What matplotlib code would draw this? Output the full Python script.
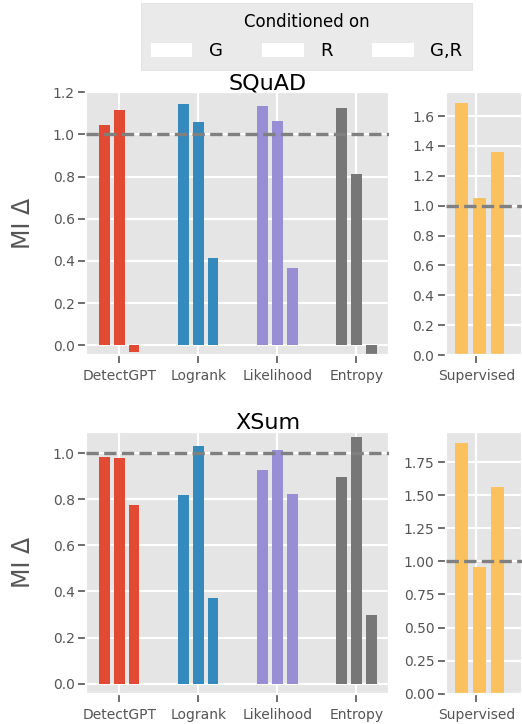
import numpy as np
import matplotlib
matplotlib.use('Agg')
import matplotlib.pyplot as plt
from matplotlib.patches import Patch

plt.style.use('ggplot')

# data
methods = ['DetectGPT', 'Logrank', 'Likelihood', 'Entropy']
conditions = ['G', 'R', 'G,R']

squad_g = [1.043, 1.143, 1.133, 1.124]
squad_r = [1.114, 1.057, 1.062, 0.810]
squad_gr = [-0.030, 0.415, 0.368, -0.050]
squad_supervised = [1.689, 1.054, 1.358]

xsum_g = [0.983, 0.816, 0.926, 0.895]
xsum_r = [0.978, 1.031, 1.013, 1.070]
xsum_gr = [0.773, 0.370, 0.821, 0.296]
xsum_supervised = [1.894, 0.959, 1.559]

method_colors = ['#E24A33', '#348ABD', '#988ED5', '#777777']
sup_color = '#FBC15E'

W, H = 522, 724
fig = plt.figure(figsize=(W / 100, H / 100), dpi=100)


def box(l, t, r, b):
    # pixel box -> figure fraction
    return [l / W, 1 - b / H, (r - l) / W, (b - t) / H]


def style_axes(ax):
    for sp in ax.spines.values():
        sp.set_color('white')
        sp.set_linewidth(1.6)
    ax.grid(True, color='white', linewidth=1.5)
    ax.tick_params(axis='both', colors='#555555', labelsize=10,
                   length=5.8, width=1.2)
    ax.tick_params(axis='x', pad=4.5)
    ax.tick_params(axis='y', pad=2.5)
    ax.axhline(1.0, color='grey', linestyle='--', linewidth=2.4, zorder=3)


def draw_row(top, bottom, g, r, gr, sup, ylim_left, ylim_right, title, title_y):
    ax = fig.add_axes(box(86.2, top, 388.8, bottom))
    x = np.arange(len(methods))
    offsets = [-0.185, 0.0, 0.185]
    for off, vals in zip(offsets, [g, r, gr]):
        ax.bar(x + off, vals, width=0.139, color=method_colors, zorder=2)
    ax.set_xticks(x)
    ax.set_xticklabels(methods)
    ax.set_xlim(-0.42, 3.41)
    ax.set_ylim(*ylim_left)
    ax.set_yticks(np.arange(0, ylim_left[1] + 0.01, 0.2))
    ax.set_ylabel('MI Δ', fontsize=17, color='#555555', labelpad=12.5)
    style_axes(ax)

    ax2 = fig.add_axes(box(446, top, 521.8, bottom))
    ax2.bar(np.array([-0.164, 0.036, 0.236]), sup, width=0.144,
            color=sup_color, zorder=2)
    ax2.set_xticks([0])
    ax2.set_xticklabels(['Supervised'])
    ax2.set_xlim(-0.337, 0.506)
    ax2.set_ylim(*ylim_right)
    style_axes(ax2)

    fig.text(267.5 / W, 1 - title_y / H, title, fontsize=16, color='black',
             ha='center', va='baseline')


draw_row(92.2, 355.1, squad_g, squad_r, squad_gr, squad_supervised,
         (-0.046, 1.193), (0, 1.76), 'SQuAD', 90)
draw_row(431.6, 693.8, xsum_g, xsum_r, xsum_gr, xsum_supervised,
         (-0.044, 1.093), (0, 1.98), 'XSum', 429)

handles = [Patch(facecolor='white', edgecolor='none') for _ in conditions]
leg = fig.legend(handles, conditions, title='Conditioned on', ncol=3,
                 loc='upper center', bbox_to_anchor=(306.5 / W, 1 - 3.3 / H),
                 borderaxespad=0, borderpad=0.55, labelspacing=0.6,
                 fontsize=13, title_fontsize=12, handlelength=2.3,
                 handleheight=0.8, handletextpad=0.9, columnspacing=2.2,
                 fancybox=False, frameon=True)
leg.get_frame().set_facecolor('#E5E5E5')
leg.get_frame().set_edgecolor('#d6d6d6')

fig.savefig('out.png', dpi=100)
